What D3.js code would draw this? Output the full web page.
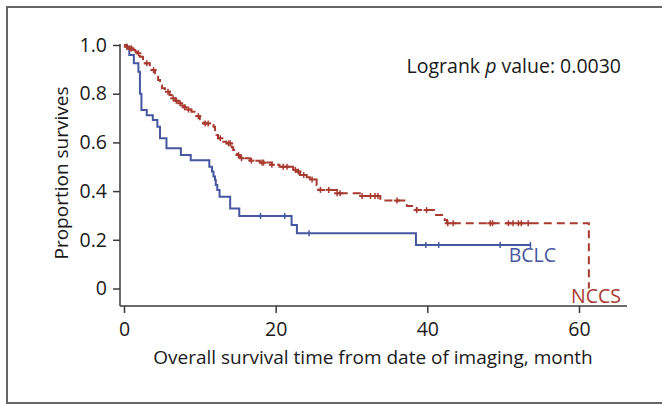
<!DOCTYPE html>
<html>
<head>
<meta charset="utf-8">
<script src="https://cdn.jsdelivr.net/npm/d3@7"></script>
<style>
  html, body { margin: 0; padding: 0; background: #fff; }
  svg { display: block; }
  text { font-family: "Open Sans", "Noto Sans", sans-serif; }
</style>
</head>
<body>
<svg id="chart" width="662" height="404"></svg>
<script>
// ---- Data ----
// BCLC: Kaplan-Meier step times (months) and survival after each step
const bclcTimes = [0, 0.4, 0.7, 1.3, 1.9, 2.1, 2.3, 3.0, 3.8, 4.4, 4.75, 5.6, 7.5, 8.8, 11.25, 11.6, 11.8, 12.0, 12.1, 12.3, 12.6, 14.0, 15.2, 22.1, 22.8, 38.5];
const bclcSurv  = [1.0, 0.986, 0.959, 0.925, 0.890, 0.80, 0.733, 0.712, 0.692, 0.664, 0.617, 0.576, 0.548, 0.527, 0.500, 0.480, 0.460, 0.446, 0.425, 0.405, 0.377, 0.329, 0.298, 0.261, 0.227, 0.179];
const bclcEnd = 53.6;
const bclcCensor = [18.0, 21.2, 24.4, 39.8, 41.5, 49.6, 53.6];

// NCCS
const nccsTimes = [0, 0.3, 0.6, 1.2, 1.5, 1.7, 2.1, 2.5, 2.8, 3.4, 3.65, 4.1, 4.3, 4.5, 4.75, 5.0, 5.4, 6.0, 6.3, 6.8, 7.2, 7.6, 8.0, 8.5, 8.9, 9.3, 9.6, 10.0, 10.5, 11.3, 11.8, 12.0, 12.2, 12.4, 12.9, 13.5, 14.2, 14.4, 14.9, 15.3, 16.6, 17.9, 19.5, 20.5, 22.3, 22.8, 23.2, 24.1, 24.5, 25.4, 25.6, 28.1, 31.1, 33.8, 37.3, 38.6, 41.0, 42.3, 42.6, 61.3];
const nccsSurv  = [1.0, 0.993, 0.986, 0.979, 0.972, 0.966, 0.952, 0.932, 0.925, 0.911, 0.897, 0.884, 0.870, 0.856, 0.835, 0.822, 0.808, 0.795, 0.781, 0.771, 0.761, 0.752, 0.744, 0.735, 0.726, 0.717, 0.708, 0.695, 0.678, 0.671, 0.664, 0.644, 0.630, 0.617, 0.603, 0.596, 0.580, 0.569, 0.548, 0.535, 0.525, 0.517, 0.508, 0.500, 0.487, 0.480, 0.466, 0.457, 0.448, 0.425, 0.405, 0.391, 0.380, 0.361, 0.339, 0.322, 0.302, 0.281, 0.268, 0];
const nccsCensor = [0.36, 0.8, 1.0, 1.9, 3.0, 3.9, 5.8, 6.5, 6.9, 7.4, 8.0, 8.5, 9.8, 10.7, 11.1, 12.7, 13.8, 14.0, 15.1, 15.5, 16.8, 18.2, 18.4, 19.5, 21.0, 21.5, 22.6, 23.0, 23.7, 24.8, 25.9, 27.0, 28.1, 28.5, 31.4, 32.5, 33.1, 33.5, 36.0, 38.6, 39.9, 42.7, 43.4, 48.3, 48.6, 50.7, 51.3, 52.0, 52.4, 53.3];

const xTicks = [0, 20, 40, 60];
const yTicks = [0, 0.2, 0.4, 0.6, 0.8, 1.0];
const yTickLabels = ["0", "0.2", "0.4", "0.6", "0.8", "1.0"];

// ---- Drawing ----
const svg = d3.select("#chart");
const BLUE = "#4656a0", RED = "#a93a2f", AXIS = "#3a3a3a";
const FS = 19.5;

// outer frame
svg.append("rect").attr("x", 7).attr("y", 7).attr("width", 670).attr("height", 396)
  .attr("fill", "none").attr("stroke", "#666").attr("stroke-width", 2);

const x = d3.scaleLinear().domain([0, 60]).range([124, 579]);
const y = d3.scaleLinear().domain([0, 1]).range([288.5, 45]);
const axisY0 = 306, axisX0 = 120;

// axes lines
svg.append("line").attr("x1", axisX0).attr("x2", axisX0).attr("y1", y(1) - 1).attr("y2", axisY0)
  .attr("stroke", AXIS).attr("stroke-width", 1.5);
svg.append("line").attr("x1", axisX0).attr("x2", 627).attr("y1", axisY0).attr("y2", axisY0)
  .attr("stroke", AXIS).attr("stroke-width", 1.5);

const gx = svg.append("g").attr("transform", `translate(0,${axisY0})`)
  .call(d3.axisBottom(x).tickValues(xTicks).tickSize(7).tickPadding(9).tickFormat(d3.format("d")));
gx.select(".domain").remove();
gx.selectAll("line").attr("stroke", AXIS).attr("stroke-width", 1.5);
gx.selectAll("text").attr("font-size", FS).attr("fill", "#1a1a1a");

const gy = svg.append("g").attr("transform", `translate(${axisX0},0)`)
  .call(d3.axisLeft(y).tickValues(yTicks).tickSize(7).tickPadding(6).tickFormat((d, i) => yTickLabels[i]));
gy.select(".domain").remove();
gy.selectAll("line").attr("stroke", AXIS).attr("stroke-width", 1.5);
gy.selectAll("text").attr("font-size", FS).attr("fill", "#1a1a1a");

// axis titles
svg.append("text").attr("x", 373).attr("y", 364).attr("text-anchor", "middle")
  .attr("font-size", FS - 0.5).attr("fill", "#1a1a1a")
  .text("Overall survival time from date of imaging, month");
svg.append("text").attr("transform", "translate(68,173) rotate(-90)").attr("text-anchor", "middle")
  .attr("font-size", FS - 0.5).attr("fill", "#1a1a1a").text("Proportion survives");

// step curves
function stepPoints(times, surv, end) {
  const pts = times.map((t, i) => [t, surv[i]]);
  if (end !== undefined) pts.push([end, surv[surv.length - 1]]);
  return pts;
}
function survAt(times, surv, t) {
  let s = surv[0];
  for (let i = 0; i < times.length; i++) if (times[i] <= t) s = surv[i];
  return s;
}
const line = d3.line().x(d => x(d[0])).y(d => y(d[1])).curve(d3.curveStepAfter);

svg.append("path").datum(stepPoints(bclcTimes, bclcSurv, bclcEnd))
  .attr("d", line).attr("fill", "none").attr("stroke", BLUE).attr("stroke-width", 2);
svg.append("path").datum(stepPoints(nccsTimes, nccsSurv))
  .attr("d", line).attr("fill", "none").attr("stroke", RED).attr("stroke-width", 2)
  .attr("stroke-dasharray", "8,5");

// censor marks
svg.append("g").selectAll("line").data(bclcCensor).join("line")
  .attr("x1", d => x(d)).attr("x2", d => x(d))
  .attr("y1", d => y(survAt(bclcTimes, bclcSurv, d)) - 3)
  .attr("y2", d => y(survAt(bclcTimes, bclcSurv, d)) + 3)
  .attr("stroke", BLUE).attr("stroke-width", 1.5);
svg.append("g").selectAll("line").data(nccsCensor).join("line")
  .attr("x1", d => x(d)).attr("x2", d => x(d))
  .attr("y1", d => y(survAt(nccsTimes, nccsSurv, d)) - 3)
  .attr("y2", d => y(survAt(nccsTimes, nccsSurv, d)) + 3)
  .attr("stroke", RED).attr("stroke-width", 1.5);
svg.append("g").selectAll("line").data(nccsCensor).join("line")
  .attr("x1", d => x(d) - 3).attr("x2", d => x(d) + 3)
  .attr("y1", d => y(survAt(nccsTimes, nccsSurv, d)))
  .attr("y2", d => y(survAt(nccsTimes, nccsSurv, d)))
  .attr("stroke", RED).attr("stroke-width", 2);

// labels
svg.append("text").attr("x", 556).attr("y", 262).attr("text-anchor", "end")
  .attr("font-size", FS).attr("fill", BLUE).text("BCLC");
svg.append("text").attr("x", 621).attr("y", 303).attr("text-anchor", "end")
  .attr("font-size", FS).attr("fill", RED).text("NCCS");

const lr = svg.append("text").attr("x", 621).attr("y", 73).attr("text-anchor", "end")
  .attr("font-size", FS).attr("fill", "#1a1a1a");
lr.append("tspan").text("Logrank ");
lr.append("tspan").attr("font-style", "italic").text("p");
lr.append("tspan").text(" value: 0.0030");
</script>
</body>
</html>
